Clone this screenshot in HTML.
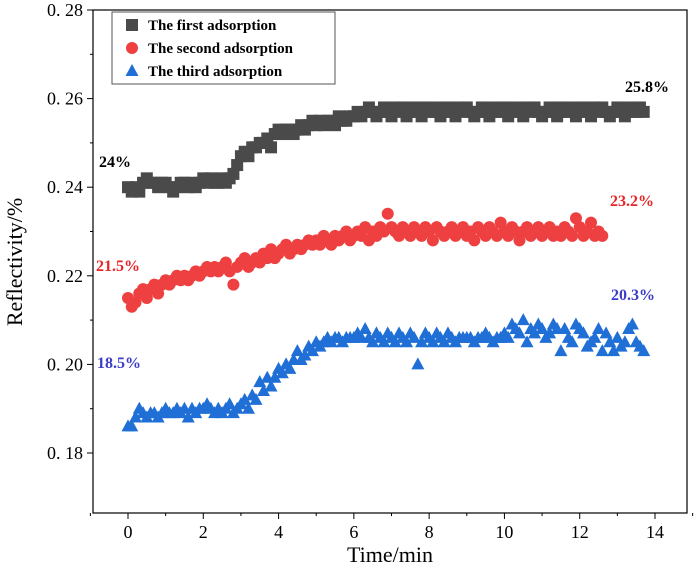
<!DOCTYPE html>
<html><head><meta charset="utf-8"><style>
body{margin:0;background:#fff}
svg{display:block;font-family:"Liberation Serif",serif}
</style></head><body>
<svg id="c" width="699" height="569"></svg>
<script>
const s1=[0.240,0.239,0.240,0.239,0.241,0.242,0.241,0.241,0.240,0.241,0.241,0.240,0.239,0.240,0.241,0.241,0.240,0.241,0.240,0.241,0.242,0.241,0.242,0.241,0.241,0.242,0.241,0.242,0.243,0.245,0.247,0.248,0.247,0.249,0.249,0.250,0.250,0.251,0.249,0.252,0.253,0.252,0.253,0.253,0.252,0.253,0.254,0.253,0.254,0.255,0.254,0.255,0.254,0.255,0.255,0.254,0.256,0.255,0.255,0.256,0.256,0.257,0.256,0.257,0.258,0.257,0.256,0.257,0.258,0.257,0.256,0.258,0.257,0.258,0.256,0.257,0.258,0.257,0.256,0.258,0.257,0.257,0.258,0.256,0.257,0.258,0.257,0.256,0.258,0.257,0.258,0.257,0.256,0.257,0.258,0.257,0.256,0.258,0.257,0.257,0.258,0.256,0.257,0.258,0.257,0.256,0.258,0.257,0.258,0.257,0.256,0.257,0.258,0.257,0.256,0.258,0.257,0.257,0.258,0.256,0.257,0.258,0.257,0.256,0.258,0.257,0.258,0.257,0.256,0.257,0.258,0.257,0.256,0.258,0.257,0.257,0.258,0.257];
const s2=[0.215,0.213,0.214,0.216,0.217,0.215,0.217,0.218,0.216,0.218,0.219,0.218,0.219,0.220,0.219,0.220,0.219,0.220,0.221,0.220,0.221,0.222,0.221,0.222,0.221,0.222,0.223,0.221,0.218,0.222,0.223,0.224,0.222,0.223,0.224,0.223,0.225,0.224,0.226,0.224,0.225,0.226,0.227,0.225,0.226,0.227,0.226,0.227,0.228,0.227,0.228,0.227,0.229,0.228,0.227,0.229,0.228,0.229,0.230,0.228,0.229,0.230,0.229,0.231,0.228,0.230,0.229,0.231,0.230,0.234,0.231,0.230,0.229,0.231,0.230,0.229,0.231,0.230,0.229,0.231,0.230,0.228,0.231,0.230,0.229,0.230,0.231,0.229,0.230,0.231,0.229,0.230,0.228,0.231,0.230,0.229,0.231,0.230,0.229,0.232,0.230,0.229,0.231,0.230,0.228,0.230,0.231,0.229,0.230,0.231,0.229,0.230,0.231,0.229,0.230,0.229,0.231,0.230,0.229,0.233,0.231,0.229,0.230,0.232,0.229,0.230,0.229];
const s3=[0.186,0.186,0.188,0.190,0.189,0.188,0.189,0.189,0.188,0.189,0.190,0.189,0.189,0.190,0.189,0.190,0.188,0.190,0.189,0.190,0.190,0.191,0.190,0.189,0.190,0.189,0.190,0.191,0.189,0.190,0.191,0.192,0.190,0.193,0.192,0.196,0.194,0.197,0.195,0.197,0.199,0.198,0.200,0.199,0.201,0.203,0.201,0.202,0.204,0.203,0.205,0.204,0.205,0.206,0.205,0.206,0.206,0.205,0.206,0.206,0.206,0.207,0.206,0.208,0.206,0.205,0.207,0.206,0.205,0.207,0.206,0.205,0.207,0.206,0.205,0.207,0.206,0.200,0.205,0.207,0.206,0.205,0.207,0.206,0.205,0.207,0.206,0.205,0.206,0.206,0.206,0.206,0.205,0.206,0.206,0.207,0.206,0.205,0.206,0.206,0.207,0.206,0.209,0.208,0.207,0.210,0.205,0.208,0.207,0.209,0.208,0.206,0.207,0.209,0.208,0.203,0.208,0.206,0.205,0.209,0.208,0.207,0.204,0.205,0.206,0.208,0.203,0.207,0.205,0.203,0.206,0.204,0.205,0.208,0.209,0.205,0.204,0.203];
const xTicks=[0,2,4,6,8,10,12,14];
const yTicks=[0.18,0.20,0.22,0.24,0.26,0.28];
const step=0.1;
const NS="http://www.w3.org/2000/svg";
const svg=document.getElementById('c');
const L=93,R=687,T=10,B=513;
const X=v=>128+v*(655-128)/14;
const Y=v=>10+(0.28-v)*(443/0.10);
function el(t,a,p){const e=document.createElementNS(NS,t);for(const k in a)e.setAttribute(k,a[k]);(p||svg).appendChild(e);return e;}
const frame=el('rect',{x:L,y:T,width:R-L,height:B-T,fill:'none',stroke:'#000','stroke-width':1.2});


xTicks.forEach(t=>{
 const ln=el('line',{x1:X(t),x2:X(t),y1:B,y2:B+6,stroke:'#000'});
 
 
 const tx=el('text',{x:X(t),y:B+25,'text-anchor':'middle','font-size':18});
 tx.textContent=t;
 
 
});
for(let t=-1;t<=15;t+=2){const m=el('line',{x1:X(t),x2:X(t),y1:B,y2:B+3,stroke:'#000'});}
yTicks.forEach(t=>{
 const ln=el('line',{x1:L-6,x2:L,y1:Y(t),y2:Y(t),stroke:'#000'});
 
 
 const tx=el('text',{x:L-10,y:Y(t)+6,'text-anchor':'end','font-size':18});
 tx.textContent=t.toFixed(2).replace('.','. ');
 
 
});
for(let t=0.19;t<0.28;t+=0.02){const m=el('line',{x1:L-3,x2:L,y1:Y(t),y2:Y(t),stroke:'#000'});}
const xt=el('text',{x:390,y:562,'text-anchor':'middle','font-size':22});xt.textContent='Time/min';


const yt=el('text',{x:22,y:262,'text-anchor':'middle','font-size':22,transform:'rotate(-90 22 262)'});yt.textContent='Reflectivity/%';


const C1='#4a4a4a',C2='#ee4040',C3='#1f6fd6';
function sq(x,y,g){return el('rect',{x:x-6,y:y-6,width:12,height:12,fill:C1},g);}
function ci(x,y,g){return el('circle',{cx:x,cy:y,r:6,fill:C2},g);}
function tr(x,y,g){return el('polygon',{points:`${x},${y-7} ${x-6.5},${y+5} ${x+6.5},${y+5}`,fill:C3},g);}
[[s1,sq,'series-first'],[s2,ci,'series-second'],[s3,tr,'series-third']].forEach(([d,f,n])=>{
 const g=el('g',{});
 
 
 d.forEach((v,i)=>{const m=f(X(i*step),Y(v),g);});
});
const ann=[[99,167,'24%','#000'],[625,92,'25.8%','#000'],[96,271,'21.5%','#e8262a'],[610,206,'23.2%','#e8262a'],[97,368,'18.5%','#3c3cc8'],[611,300,'20.3%','#3c3cc8']];
ann.forEach(([x,y,t,c])=>{const e=el('text',{x,y,'font-size':16,'font-weight':'bold',fill:c});e.textContent=t;});
const lg=el('g',{});


el('rect',{x:112,y:12,width:223,height:72,fill:'#fff',stroke:'#555'},lg);
[[sq,'The first adsorption',25],[ci,'The second adsorption',48],[tr,'The third adsorption',71]].forEach(([f,t,y])=>{
 f(132,y,lg);
 const e=el('text',{x:148,y:y+5,'font-size':15,'font-weight':'bold'},lg);e.textContent=t;
 
 
});
</script>
</body></html>
